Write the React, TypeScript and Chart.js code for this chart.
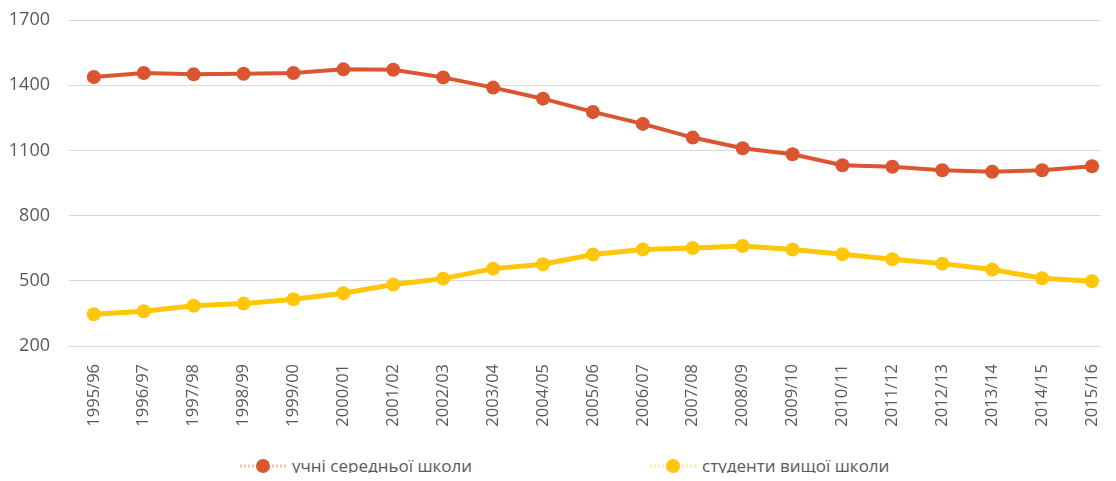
import React, { useEffect, useRef } from "react";
import { Chart, registerables } from "chart.js";

Chart.register(...registerables);

const categories = [
  "1995/96", "1996/97", "1997/98", "1998/99", "1999/00", "2000/01", "2001/02",
  "2002/03", "2003/04", "2004/05", "2005/06", "2006/07", "2007/08", "2008/09",
  "2009/10", "2010/11", "2011/12", "2012/13", "2013/14", "2014/15", "2015/16",
];

const schoolPupils = [
  1438, 1456, 1450, 1453, 1456, 1473, 1471, 1436, 1389, 1338, 1277, 1222, 1159,
  1110, 1082, 1032, 1025, 1009, 1002, 1009, 1027,
];

const universityStudents = [
  346, 360, 385, 395, 415, 443, 483, 510, 556, 576, 621, 644, 651, 660, 644, 622,
  599, 579, 552, 512, 498,
];

const seriesNames = ["учні середньої школи", "студенти вищої школи"];
const seriesColors = ["#DA5530", "#FFC60A"];

const yTicks = [200, 500, 800, 1100, 1400, 1700];

const FONT = "'Open Sans', 'Noto Sans', sans-serif";
const TEXT = "#595959";

const zeroPadding = (scale: any) => {
  scale.paddingLeft = 0;
  scale.paddingRight = 0;
  scale.paddingTop = 0;
  scale.paddingBottom = 0;
};

export default function App() {
  const canvasRef = useRef<HTMLCanvasElement | null>(null);

  useEffect(() => {
    const ctx = canvasRef.current;
    if (!ctx) return;
    const chart = new Chart(ctx, {
      type: "line",
      data: {
        datasets: [
          {
            label: seriesNames[0],
            data: schoolPupils.map((v, i) => ({ x: i, y: v })),
            borderColor: seriesColors[0],
            backgroundColor: seriesColors[0],
            borderWidth: 4,
            pointRadius: 7,
            pointHoverRadius: 7,
            pointBorderWidth: 0,
            tension: 0,
          },
          {
            label: seriesNames[1],
            data: universityStudents.map((v, i) => ({ x: i, y: v })),
            borderColor: seriesColors[1],
            backgroundColor: seriesColors[1],
            borderWidth: 5,
            pointRadius: 7,
            pointHoverRadius: 7,
            pointBorderWidth: 0,
            tension: 0,
          },
        ],
      },
      options: {
        animation: false,
        responsive: true,
        maintainAspectRatio: false,
        layout: { padding: { top: 12, right: 1, left: 0, bottom: 0 } },
        plugins: {
          legend: { display: false },
          tooltip: { enabled: false },
        },
        scales: {
          x: {
            type: "linear",
            min: -0.497,
            max: 20.18,
            grid: { display: false },
            border: { display: false },
            ticks: {
              stepSize: 1,
              includeBounds: false,
              autoSkip: false,
              minRotation: 90,
              maxRotation: 90,
              padding: 10,
              color: TEXT,
              font: { family: FONT, size: 16.5 },
              callback: (v: any) => {
                const n = Number(v);
                return Number.isInteger(n) && n >= 0 && n < categories.length
                  ? categories[n]
                  : "";
              },
            },
            afterFit: (scale: any) => {
              scale.height = 107;
              zeroPadding(scale);
            },
          },
          y: {
            min: yTicks[0],
            max: yTicks[yTicks.length - 1],
            afterBuildTicks: (scale: any) => {
              scale.ticks = yTicks.map((v) => ({ value: v }));
            },
            grid: { color: "#D9D9D9", lineWidth: 1, drawTicks: false },
            border: { display: false },
            ticks: {
              padding: 19,
              color: TEXT,
              font: { family: FONT, size: 18 },
              callback: (v: any) => String(v),
            },
            afterFit: (scale: any) => {
              scale.width = 61;
              zeroPadding(scale);
            },
          },
        },
      },
    });
    return () => chart.destroy();
  }, []);

  const legendItems = [
    { name: seriesNames[0], color: seriesColors[0], left: 232 },
    { name: seriesNames[1], color: seriesColors[1], left: 642 },
  ];

  return (
    <div style={{ position: "relative", width: 1100, height: 465 }}>
      <div style={{ position: "absolute", left: 0, top: 0, width: 1100, height: 445 }}>
        <canvas ref={canvasRef} />
      </div>
      {legendItems.map((it) => (
        <div
          key={it.name}
          style={{
            position: "absolute",
            left: it.left,
            top: 446,
            height: 24,
            lineHeight: "24px",
            display: "flex",
            alignItems: "center",
            fontFamily: FONT,
            fontSize: 17,
            color: TEXT,
            whiteSpace: "nowrap",
            zIndex: 2,
          }}
        >
          <svg width={52} height={18}>
            <line x1={0} y1={9} x2={46} y2={9} stroke={it.color} strokeOpacity={0.35} strokeWidth={3} strokeDasharray="2 2" />
            <circle cx={23} cy={9} r={7} fill={it.color} />
          </svg>
          <span>{it.name}</span>
        </div>
      ))}
    </div>
  );
}
